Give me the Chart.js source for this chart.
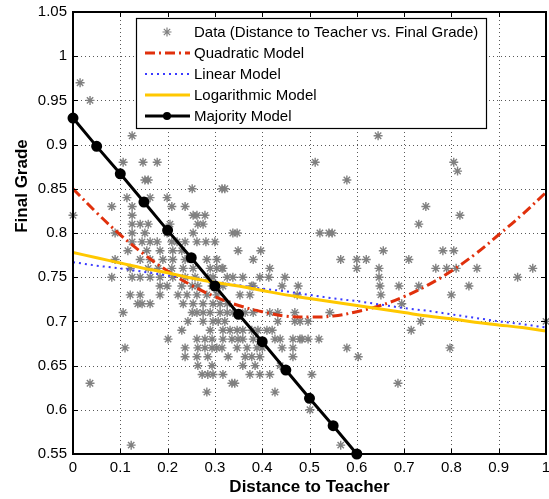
<!DOCTYPE html>
<html><head><meta charset="utf-8">
<script src="https://cdn.jsdelivr.net/npm/chart.js@4.4.0/dist/chart.umd.min.js"></script>
<style>html,body{margin:0;padding:0;background:#fff;}#wrap{width:549px;height:499px;}</style>
</head><body><div id="wrap"><canvas id="c" width="549" height="499"></canvas></div>
<script>
// ---- Data ----
const gradeRows = [0.97,0.95,0.91,0.88,0.87,0.86,0.85,0.84,0.83,0.82,0.81,0.80,0.79,0.78,0.77,0.76,0.75,0.74,0.73,0.72,0.71,0.70,0.69,0.68,0.67,0.66,0.65,0.64,0.63,0.62,0.60,0.56];
const distanceRows = [
  [0.015],
  [0.036],
  [0.125,0.645],
  [0.106,0.148,0.178,0.512,0.805],
  [0.813],
  [0.152,0.159,0.579],
  [0.252,0.315,0.321],
  [0.114,0.163,0.199],
  [0.082,0.125,0.209,0.237,0.746],
  [0.0,0.125,0.254,0.262,0.279,0.818],
  [0.125,0.142,0.159,0.205,0.264,0.275,0.731],
  [0.089,0.125,0.152,0.199,0.254,0.338,0.347,0.522,0.541,0.548],
  [0.125,0.146,0.163,0.178,0.209,0.220,0.237,0.262,0.281,0.300],
  [0.116,0.156,0.184,0.211,0.230,0.349,0.397,0.656,0.782,0.805],
  [0.089,0.142,0.163,0.190,0.211,0.237,0.283,0.304,0.381,0.566,0.600,0.620,0.710],
  [0.121,0.159,0.180,0.209,0.233,0.254,0.290,0.304,0.315,0.317,0.416,0.600,0.647,0.767,0.790,0.810,0.854,0.972],
  [0.082,0.125,0.142,0.163,0.184,0.211,0.237,0.258,0.285,0.296,0.326,0.338,0.359,0.395,0.414,0.448,0.647,0.940],
  [0.184,0.199,0.230,0.252,0.264,0.294,0.317,0.378,0.381,0.442,0.476,0.649,0.689,0.731,0.837],
  [0.121,0.142,0.184,0.222,0.241,0.262,0.283,0.304,0.353,0.374,0.474,0.651,0.800],
  [0.137,0.146,0.163,0.233,0.254,0.275,0.296,0.311,0.326,0.695],
  [0.106,0.252,0.262,0.275,0.290,0.311,0.326,0.338,0.364,0.381,0.416,0.433,0.469,0.543],
  [0.243,0.275,0.296,0.307,0.321,0.433,0.469,0.480,0.497,0.735,1.0],
  [0.230,0.290,0.317,0.332,0.347,0.359,0.378,0.391,0.410,0.421,0.715],
  [0.201,0.262,0.279,0.294,0.317,0.336,0.349,0.359,0.381,0.427,0.438,0.465,0.480,0.484,0.497,0.520],
  [0.110,0.237,0.264,0.279,0.294,0.304,0.315,0.347,0.368,0.389,0.400,0.442,0.465,0.579,0.797],
  [0.237,0.262,0.285,0.328,0.364,0.378,0.395,0.465,0.603],
  [0.264,0.294,0.359,0.385,0.438],
  [0.273,0.285,0.296,0.317,0.374,0.395,0.416,0.505],
  [0.036,0.336,0.342,0.687],
  [0.283,0.427],
  [0.501],
  [0.123,0.566]
];
const modelX      = [0,0.05,0.1,0.15,0.2,0.25,0.3,0.35,0.4,0.45,0.5,0.55,0.6,0.65,0.7,0.75,0.8,0.85,0.9,0.95,1];
const quadraticY  = [0.850,0.823,0.798,0.776,0.757,0.741,0.728,0.718,0.711,0.706,0.705,0.706,0.711,0.718,0.728,0.741,0.757,0.776,0.798,0.821,0.846];
const linearY     = [0.767,0.763,0.760,0.756,0.752,0.749,0.745,0.741,0.737,0.734,0.730,0.726,0.723,0.719,0.715,0.712,0.708,0.704,0.700,0.697,0.693];
const logY        = [0.778,0.772,0.766,0.760,0.755,0.749,0.744,0.740,0.735,0.730,0.726,0.722,0.718,0.714,0.710,0.706,0.703,0.699,0.696,0.693,0.689];
const majorityX   = [0,0.05,0.1,0.15,0.2,0.25,0.3,0.35,0.4,0.45,0.5,0.55,0.6];
const majorityY   = [0.930,0.898,0.867,0.835,0.803,0.772,0.740,0.708,0.677,0.645,0.613,0.582,0.550];
const xTicks = [0,0.1,0.2,0.3,0.4,0.5,0.6,0.7,0.8,0.9,1];
const yTicks = [0.55,0.6,0.65,0.7,0.75,0.8,0.85,0.9,0.95,1,1.05];
const seriesLabels = ['Data (Distance to Teacher vs. Final Grade)','Quadratic Model','Linear Model','Logarithmic Model','Majority Model'];
const yTitle = 'Final Grade';

// ---- Build library structures ----
const scatterPts = [];
gradeRows.forEach((g,i)=>distanceRows[i].forEach(d=>scatterPts.push({x:d,y:g})));
const zip = (xs,ys)=>xs.map((v,i)=>({x:v,y:ys[i]}));
const FONT = '"Liberation Sans", Arial, Helvetica, sans-serif';
const fmt = v => String(Math.round(v*100)/100);

function drawStar(ctx,x,y,r){
  ctx.beginPath();
  for(let k=0;k<4;k++){
    const a=k*Math.PI/4;
    ctx.moveTo(x-r*Math.cos(a),y-r*Math.sin(a));
    ctx.lineTo(x+r*Math.cos(a),y+r*Math.sin(a));
  }
  ctx.stroke();
}

const framePlugin = {
  id:'frame',
  beforeDatasetsDraw(chart){
    const {ctx, chartArea:a, scales:{x,y}} = chart;
    ctx.save();
    ctx.strokeStyle='rgba(0,0,0,0.65)'; ctx.lineWidth=1; ctx.setLineDash([1,3]);
    xTicks.forEach(v=>{ if(v<=0||v>=1) return; const p=Math.round(x.getPixelForValue(v))+0.5;
      ctx.beginPath(); ctx.moveTo(p,a.top); ctx.lineTo(p,a.bottom); ctx.stroke(); });
    yTicks.forEach(v=>{ if(v<=0.55||v>=1.05) return; const p=Math.round(y.getPixelForValue(v))+0.5;
      ctx.beginPath(); ctx.moveTo(a.left,p); ctx.lineTo(a.right,p); ctx.stroke(); });
    ctx.restore();
    // y axis title
    ctx.save();
    ctx.translate(22, 186); ctx.rotate(-Math.PI/2);
    ctx.font='bold 17px '+FONT; ctx.fillStyle='#000'; ctx.textAlign='center'; ctx.textBaseline='middle';
    ctx.fillText(yTitle,0,0);
    ctx.restore();
  },
  afterDatasetsDraw(chart){
    const {ctx, chartArea:a, scales:{x,y}} = chart;
    ctx.save();
    ctx.setLineDash([]); ctx.strokeStyle='#000'; ctx.lineWidth=1;
    const tl=5;
    xTicks.forEach(v=>{ const p=Math.round(x.getPixelForValue(v))+0.5;
      ctx.beginPath(); ctx.moveTo(p,a.bottom); ctx.lineTo(p,a.bottom-tl); ctx.moveTo(p,a.top); ctx.lineTo(p,a.top+tl); ctx.stroke(); });
    yTicks.forEach(v=>{ const p=Math.round(y.getPixelForValue(v))+0.5;
      ctx.beginPath(); ctx.moveTo(a.left,p); ctx.lineTo(a.left+tl,p); ctx.moveTo(a.right,p); ctx.lineTo(a.right-tl,p); ctx.stroke(); });
    ctx.lineWidth=2;
    ctx.strokeRect(a.left, a.top, a.right-a.left, a.bottom-a.top);
    // legend
    const L=136,T=18,R=486,B=128;
    ctx.fillStyle='#fff'; ctx.fillRect(L,T,R-L,B-T);
    ctx.lineWidth=1.2; ctx.strokeStyle='#000'; ctx.strokeRect(L+0.5,T+0.5,R-L,B-T);
    const rows=[32,53,74,95,116];
    ctx.font='15px '+FONT; ctx.textBaseline='middle'; ctx.textAlign='left';
    chart.data.datasets.forEach((ds,i)=>{
      const yy=rows[i];
      ctx.save();
      if(i===0){ ctx.strokeStyle=ds.borderColor; ctx.lineWidth=1.2; drawStar(ctx,167,yy,4.5); }
      else {
        ctx.strokeStyle=ds.borderColor; ctx.lineWidth=ds.borderWidth; ctx.setLineDash(ds.borderDash||[]);
        ctx.beginPath(); ctx.moveTo(145,yy); ctx.lineTo(190,yy); ctx.stroke();
        if(ds.pointRadius>0){ ctx.setLineDash([]); ctx.fillStyle=ds.pointBackgroundColor; ctx.beginPath(); ctx.arc(167,yy,ds.pointRadius,0,Math.PI*2); ctx.fill(); }
      }
      ctx.restore();
      ctx.fillStyle='#000'; ctx.fillText(ds.label,194,yy+1);
    });
    ctx.restore();
  }
};

new Chart(document.getElementById('c'), {
  type:'scatter',
  data:{ datasets:[
    { label:seriesLabels[0], data:scatterPts, showLine:false, pointStyle:'star', pointRadius:4.5, pointBorderWidth:1.4,
      borderColor:'#808080', pointBorderColor:'#808080', backgroundColor:'#808080', clip:false, order:5 },
    { label:seriesLabels[1], data:zip(modelX,quadraticY), showLine:true, borderColor:'#e0300c', borderWidth:3,
      borderDash:[10,4,2,4], pointRadius:0, tension:0.4, order:4 },
    { label:seriesLabels[2], data:zip(modelX,linearY), showLine:true, borderColor:'#3a3aff', borderWidth:2,
      borderDash:[2,4], pointRadius:0, order:3 },
    { label:seriesLabels[3], data:zip(modelX,logY), showLine:true, borderColor:'#ffc800', borderWidth:3,
      pointRadius:0, tension:0.4, order:2 },
    { label:seriesLabels[4], data:zip(majorityX,majorityY), showLine:true, borderColor:'#000', borderWidth:3,
      pointRadius:4, pointBackgroundColor:'#000', pointBorderColor:'#000', clip:false, order:1 }
  ]},
  options:{
    responsive:false, animation:false, devicePixelRatio:1,
    layout:{ autoPadding:false, padding:{ left:0, right:3, top:12, bottom:0 } },
    plugins:{ legend:{display:false}, tooltip:{enabled:false} },
    scales:{
      x:{ type:'linear', min:0, max:1,
        afterBuildTicks:s=>{ s.ticks = xTicks.map(v=>({value:v})); },
        afterFit:s=>{ s.height=45; s.paddingLeft=0; s.paddingRight=0; },
        grid:{ display:false, drawTicks:false }, border:{display:false},
        ticks:{ color:'#000', padding:5, maxRotation:0, autoSkip:false, font:{family:FONT,size:15}, callback:fmt },
        title:{ display:true, text:'Distance to Teacher', color:'#000', font:{family:FONT,size:17,weight:'bold'}, padding:{top:0,bottom:1} } },
      y:{ type:'linear', min:0.55, max:1.05,
        afterBuildTicks:s=>{ s.ticks = yTicks.map(v=>({value:v})); },
        afterFit:s=>{ s.width=73; s.paddingTop=0; s.paddingBottom=0; },
        grid:{ display:false, drawTicks:false }, border:{display:false},
        ticks:{ color:'#000', padding:6, autoSkip:false, font:{family:FONT,size:15}, callback:fmt },
        title:{ display:false } }
    }
  },
  plugins:[framePlugin]
});
</script></body></html>
